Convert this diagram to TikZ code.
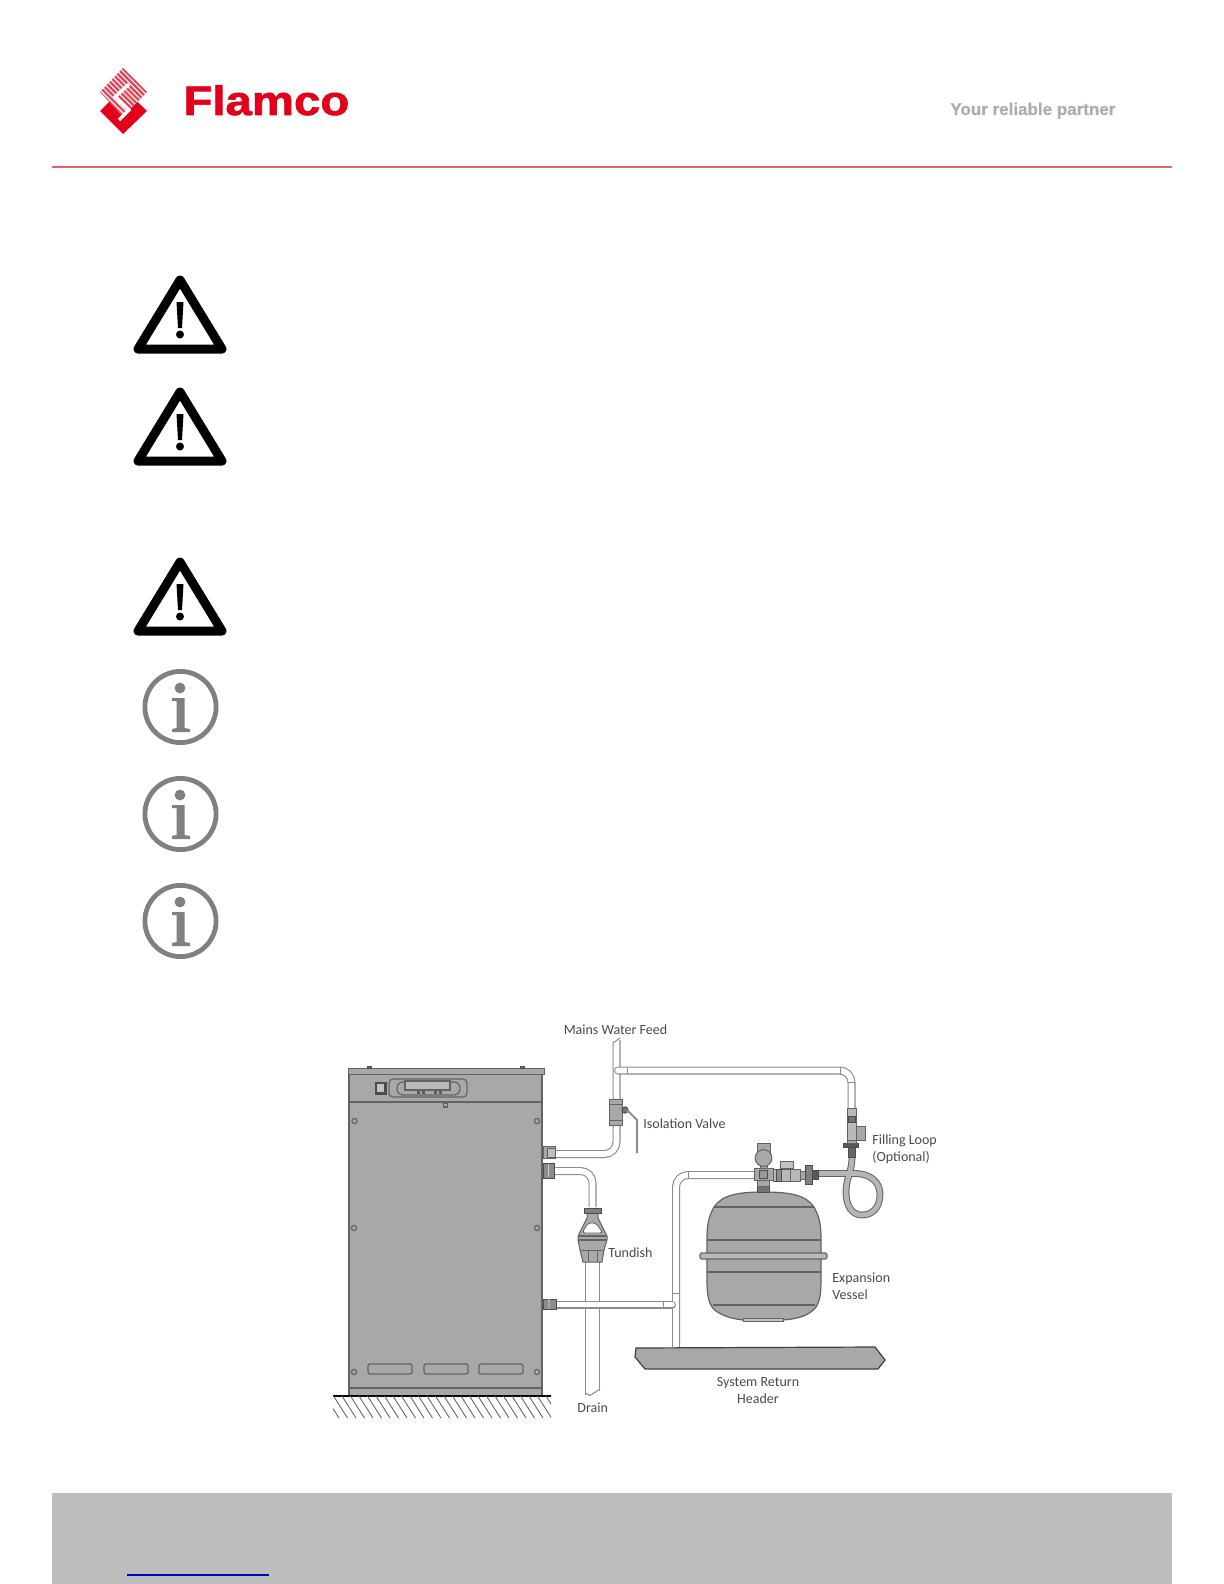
\documentclass[tikz,border=0pt]{standalone}
\usepackage{fontspec}
\setmainfont{Carlito}
\newfontfamily\logofont{Liberation Sans}[BoldFeatures={FakeBold=1.6}]
\newfontfamily\sloganfont{Liberation Sans}[BoldFeatures={FakeBold=0.6}]
\definecolor{flamred}{HTML}{E2001A}
\definecolor{headline}{HTML}{E0636E}
\definecolor{bodygray}{HTML}{A8A8A8}
\definecolor{edgegray}{HTML}{636363}
\definecolor{pipegray}{HTML}{8C8C8C}
\definecolor{labelgray}{HTML}{4A4A4A}
\tikzset{
  pipe/.style={draw=pipegray, line width=0.55pt, double=white, double distance=2.9pt},
  drainpipe/.style={pipe, double distance=6.6pt},
  bodyline/.style={draw=edgegray, line width=0.6pt},
  fitting/.style={draw=edgegray, fill=bodygray, line width=0.5pt},
  darkfit/.style={draw=black!70, fill=black!55, line width=0.4pt},
  partlabel/.style={text=labelgray, font=\fontsize{7}{8}\selectfont, inner sep=0pt},
}
\begin{document}
\begin{tikzpicture}[x=0.5pt,y=-0.5pt]
\useasboundingbox (0,0) rectangle (1224,1584);

% Header
\fill[flamred] (123,88) -- (147,111) -- (123,134) -- (100,111) -- cycle;
\begin{scope}
\clip (123,68) -- (147,92) -- (123,116) -- (100,92) -- cycle;
\fill[white] (90,60) rectangle (155,125);
\foreach \s in {-60,-54.8,...,40}
  \draw[flamred!75, line width=1.1pt] (123+\s-40,92-40) -- (123+\s+40,92+40);
\end{scope}
\draw[white, line width=1.7pt] (129,84) -- (115,97) -- (129,110) -- (119,120);
\node[font=\logofont\bfseries\fontsize{20.6}{24}\selectfont, text=flamred, xscale=1.15, anchor=base west, inner sep=0pt] (brand) at (183,115) {Flamco};
\node[font=\sloganfont\bfseries\fontsize{8.5}{10}\selectfont, text=black!32, anchor=base west, inner sep=0pt] (slogan) at (950,115) {Your reliable partner};
\draw[headline, line width=1.4pt] (52,167) -- (1172,167);

% Warning signs
\foreach \y in {0,112,282} {
  \draw[line width=4.5pt, line join=round] (180,280+\y) -- (222,349+\y) -- (138,349+\y) -- cycle;
  \fill (176.5,302+\y) -- (183.5,302+\y) -- (182,328+\y) -- (178,328+\y) -- cycle;
  \fill (180,334.5+\y) circle (2pt);
}

% Info signs
\foreach \y in {707,814,921} {
  \draw[black!50, line width=2.4pt] (180.5,\y) circle (17.8pt);
  \fill[black!50] (180,\y-19) circle (2.7pt);
  \fill[black!50] (172,\y-9) -- (184.5,\y-9) -- (184.5,\y+21) -- (190,\y+22) -- (190,\y+25) -- (172,\y+25) -- (172,\y+22) -- (176.5,\y+21) -- (176.5,\y-6) -- (172,\y-6) -- cycle;
}

% Boiler
\fill[bodygray] (349,1074) rectangle (542,1395);
\draw[bodyline] (349,1074) -- (349,1395) (542,1074) -- (542,1395);
\draw[fitting] (348,1068) rectangle (544,1074);
\draw[darkfit] (367,1066) rectangle (371,1068) (520,1066) rectangle (524,1068);
\draw[bodyline] (349,1102) -- (542,1102) (349,1388) -- (542,1388);
\draw[bodyline, rounded corners=2pt] (389,1079) rectangle (467,1097);
\draw[bodyline, rounded corners=3pt] (397,1082) rectangle (460,1095);
\draw[bodyline, fill=bodygray!80] (405,1081) rectangle (450,1090);
\draw[darkfit, fill=black!70] (375,1082) rectangle (386,1094);
\fill[bodygray!70] (377,1084) rectangle (384,1092);
\foreach \bx in {418,423,435,440}
  \fill[black!65] (\bx-1.5,1090.5) rectangle (\bx+1.5,1094);
\draw[bodyline] (443.5,1103) rectangle (447.5,1107);
\foreach \sx/\sy in {354.5/1121,537/1121,354/1228,537/1228,354/1372,537/1372}
  \draw[bodyline] (\sx,\sy) circle (1.3pt);
\foreach \slx in {368,424,479}
  \draw[bodyline, rounded corners=1pt] (\slx,1364) rectangle (\slx+44,1374);

% Floor
\draw[line width=1.1pt] (333,1396) -- (551,1396);
\begin{scope}
\clip (333,1396) rectangle (551,1418);
\foreach \hx in {325,333.5,...,550}
  \draw[black!60, line width=0.45pt] (\hx,1396) -- (\hx+14,1418);
\end{scope}

% Pipes
\draw[drainpipe] (592.5,1262) -- (592.5,1396);
\fill[white] (583,1394) -- (590,1397) -- (596,1393) -- (602,1389) -- (602,1402) -- (583,1402) -- cycle;
\draw[pipegray, line width=0.5pt] (585,1393) -- (590,1395.5) -- (600,1389);
\draw[pipe, rounded corners=6pt] (553,1171) -- (592.5,1171) -- (592.5,1207);
\draw[pipe, rounded corners=6pt] (676,1347) -- (676,1175) -- (755,1175);
\draw[pipe, line cap=round] (556,1304.5) -- (672,1304.5);
\draw[pipe, rounded corners=6pt] (555,1154) -- (616.5,1154) -- (616.5,1040);
\fill[white] (612,1043) -- (621.5,1037) -- (621.5,1034) -- (612,1034) -- cycle;
\draw[pipegray, line width=0.5pt] (612.8,1043) -- (620.2,1038);
\draw[pipe, rounded corners=6pt, line cap=round] (618,1070.5) -- (851.5,1070.5) -- (851.5,1108);
\draw[pipegray, line width=0.5pt] (672,1293) -- (680,1293) (627,1067) -- (627,1074) (840,1067) -- (840,1074) (848,1082) -- (855,1082) (663,1300.5) -- (663,1308.5) (688,1171) -- (688,1179);

% Fittings on the boiler
\draw[fitting] (543,1146) rectangle (555,1158);
\draw[fitting, fill=bodygray!75] (547,1148) rectangle (555,1157);
\draw[darkfit, fill=black!45] (543,1163) rectangle (554,1178);
\draw[white!80!black, line width=0.4pt] (548,1164) -- (548,1177);
\draw[darkfit, fill=black!45] (543,1299) rectangle (556,1309);
\draw[bodygray, line width=0.6pt] (549,1299) -- (549,1309);

% Isolation valve
\draw[fitting] (609,1099) rectangle (622,1125);
\draw[edgegray, line width=0.4pt] (609,1104) -- (622,1104) (609,1120) -- (622,1120);
\draw[darkfit] (625,1110) circle (1.6pt);
\draw[pipegray, line width=1pt] (627,1110) -- (637,1120) -- (637,1153);

% Tundish
\draw[fitting] (587,1213) -- (598,1213) -- (598,1218) -- (607,1236) -- (607,1240) -- (604,1250) -- (602,1262) -- (583,1262) -- (580,1250) -- (578,1240) -- (578,1236) -- (587,1218) -- cycle;
\draw[darkfit, fill=black!50] (584,1208) rectangle (601,1213);
\draw[edgegray, line width=0.4pt, fill=white, rounded corners=1.5pt] (588,1223) -- (596,1223) -- (603,1233) -- (582,1233) -- cycle;
\draw[edgegray, line width=0.7pt] (578,1236) -- (607,1236) (578,1240) -- (607,1240);
\draw[black!60, line width=0.4pt] (588,1250) -- (588,1262) (597,1250) -- (597,1262) (581,1250) -- (604,1250);

% Filling loop hose
\draw[edgegray, line width=3.4pt] (818,1173.5) -- (855,1173.5) .. controls (870,1173.5) and (880,1182) .. (880,1194) .. controls (880,1208) and (872,1215) .. (862,1215) .. controls (852,1215) and (846,1206) .. (846,1192) .. controls (846,1178) and (852,1172) .. (852,1157);
\draw[bodygray!85, line width=2.4pt] (818,1173.5) -- (855,1173.5) .. controls (870,1173.5) and (880,1182) .. (880,1194) .. controls (880,1208) and (872,1215) .. (862,1215) .. controls (852,1215) and (846,1206) .. (846,1192) .. controls (846,1178) and (852,1172) .. (852,1157);

% Filling loop valve
\draw[fitting, fill=bodygray!80] (847,1108) rectangle (856,1140);
\draw[fitting] (856,1126) rectangle (865,1140);
\draw[darkfit] (848,1116) rectangle (855,1122);
\draw[darkfit, fill=black!65] (843,1143) rectangle (858,1147);
\draw[fitting] (847,1140) rectangle (856,1143);
\draw[darkfit, fill=black!60] (848,1147) rectangle (855,1157);

% Expansion vessel
\draw[bodyline, fill=bodygray] (763,1192) .. controls (738,1192) and (722,1195) .. (714,1207) .. controls (708,1218) and (707,1226) .. (707,1240) -- (707,1280) .. controls (707,1297) and (709,1306) .. (716,1311) .. controls (724,1317) and (735,1319) .. (743,1320) -- (783,1320) .. controls (795,1319) and (805,1317) .. (812,1311) .. controls (819,1306) and (821,1297) .. (821,1280) -- (821,1240) .. controls (821,1226) and (820,1218) .. (814,1207) .. controls (806,1195) and (790,1192) .. (763,1192) -- cycle;
\draw[bodyline] (714,1207) -- (814,1207) (707,1240) -- (821,1240) (707,1272) -- (821,1272) (713,1305) -- (815,1305);
\draw[bodyline, fill=bodygray!80, rounded corners=1pt] (700,1253) rectangle (827,1259);
\draw[fitting, fill=bodygray!70] (743,1318) rectangle (783,1321);

% Vessel valve set
\draw[darkfit] (757,1184) rectangle (769,1192);
\draw[fitting] (757,1168) rectangle (769,1186);
\draw[fitting] (760,1150) rectangle (767,1168);
\draw[fitting] (757,1143) rectangle (770,1152);
\draw[fitting] (763.5,1158) circle (4.2pt);
\draw[fitting] (754,1168) rectangle (773,1180);
\draw[darkfit, fill=black!40] (759,1170) rectangle (767,1178);
\draw[fitting, fill=bodygray!80] (773,1169) rectangle (800,1181);
\draw[darkfit, fill=black!45] (776,1169) rectangle (781,1181);
\draw[edgegray, line width=0.4pt] (790,1169) -- (790,1181);
\draw[fitting, fill=bodygray!70] (780,1161) rectangle (793,1168);
\draw[fitting] (800,1171) rectangle (805,1179);
\draw[darkfit, fill=black!50] (805,1165) rectangle (812,1184);
\draw[darkfit, fill=black!65] (812,1170) rectangle (818,1179);

% System return header
\draw[line width=0.6pt, draw=black!75, fill=bodygray] (636,1348) -- (875,1347) -- (885,1360) -- (878,1369) -- (645,1369) -- (635,1357) -- cycle;

% Labels
\node[partlabel] (mainsfeed) at (615.5,1030) {Mains Water Feed};
\node[partlabel, anchor=west] (isolation) at (643,1124) {Isolation Valve};
\node[partlabel, anchor=west] (fillingloop) at (872,1141) {Filling Loop};
\node[partlabel, anchor=west] (optional) at (872,1157) {(Optional)};
\node[partlabel, anchor=west] (tundish) at (608,1252.5) {Tundish};
\node[partlabel, anchor=west] (expansion) at (832,1279) {Expansion};
\node[partlabel, anchor=west] (vessel) at (832,1295) {Vessel};
\node[partlabel] (returnlabel) at (758,1383) {System Return};
\node[partlabel] (headerlabel) at (758,1399) {Header};
\node[partlabel, anchor=west] (drain) at (577,1408) {Drain};

% Footer
\fill[black!26] (52,1493) rectangle (1172,1584);
\draw[blue!75!black, line width=0.7pt] (127,1575) -- (269,1575);

\end{tikzpicture}
\end{document}
